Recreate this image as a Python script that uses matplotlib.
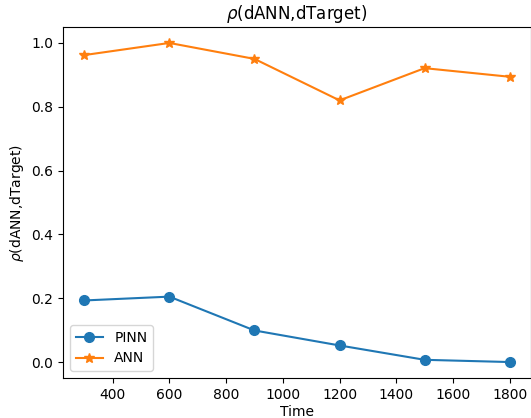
import matplotlib
matplotlib.use("Agg")
import matplotlib.pyplot as plt

time = [300, 600, 900, 1200, 1500, 1800]
pinn = [0.193, 0.205, 0.099, 0.052, 0.007, 0.0]
ann = [0.962, 1.0, 0.950, 0.820, 0.921, 0.894]

fig = plt.figure(figsize=(5.31, 4.18), dpi=100)
ax = fig.add_axes([63 / 531, 40 / 418, 468 / 531, 351 / 418])

ax.plot(time, pinn, marker="o", markersize=7, label="PINN")
ax.plot(time, ann, marker="*", markersize=7, label="ANN")

ax.set_xlabel("Time", labelpad=2)
ax.set_ylabel(r"$\rho$(dANN,dTarget)")
ax.set_title(r"$\rho$(dANN,dTarget)")
ax.legend(loc="lower left")

fig.savefig("out.png", dpi=100)
